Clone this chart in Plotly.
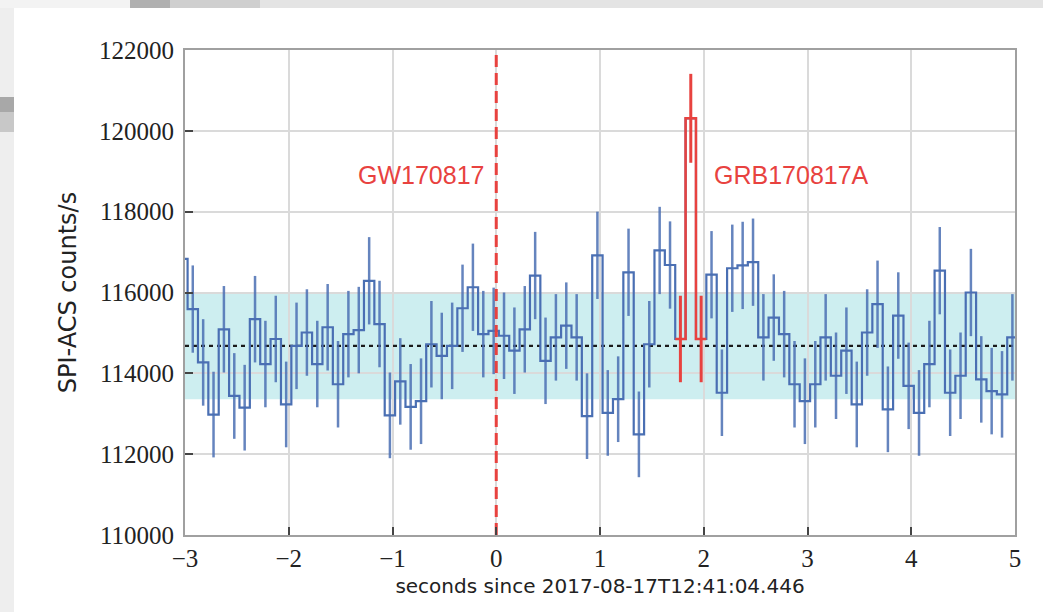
import plotly.graph_objects as go

# SPI-ACS count rate in 100 ms bins, time relative to GW170817 trigger
bin_width = 0.1
first_center = -3.025
counts = [
    116830, 115590, 114270, 112980, 115090, 113440, 113150, 115340, 114230, 114850,
    113230, 114680, 115010, 114230, 115140, 113730, 114970, 115070, 116290, 115220,
    112960, 113800, 113170, 113310, 114720, 114430, 114680, 115610, 116130, 114970,
    115050, 114930, 114560, 115090, 116420, 114310, 114890, 115180, 114890, 112940,
    116920, 113020, 113360, 116500, 112490, 114720, 117040, 116680, 114850, 120310,
    114850, 116440, 113520, 116600, 116670, 116750, 114890, 115380, 114970, 113730,
    113310, 113730, 114890, 113940, 114560, 113230, 115010, 115710, 113110, 115430,
    113690, 113020, 114230, 116540, 113520, 113940, 116000, 113850, 113560, 113480,
    114890,
]
count_err = [
    1080, 1080, 1070, 1060, 1070, 1060, 1060, 1070, 1070, 1070,
    1060, 1070, 1070, 1070, 1070, 1070, 1070, 1070, 1080, 1070,
    1060, 1070, 1060, 1060, 1070, 1070, 1070, 1080, 1080, 1070,
    1070, 1070, 1070, 1070, 1080, 1070, 1070, 1070, 1070, 1060,
    1080, 1060, 1060, 1080, 1060, 1070, 1080, 1080, 1070, 1100,
    1070, 1080, 1070, 1080, 1080, 1080, 1070, 1070, 1070, 1070,
    1060, 1070, 1070, 1070, 1070, 1060, 1070, 1080, 1060, 1070,
    1070, 1060, 1070, 1080, 1070, 1070, 1080, 1070, 1070, 1070,
    1070,
]
grb_bins = [48, 49, 50]

mean_rate = 114680
band_low = 113360
band_high = 116000
t_gw = 0.0

x_ticks = [-3, -2, -1, 0, 1, 2, 3, 4, 5]
y_ticks = [110000, 112000, 114000, 116000, 118000, 120000, 122000]

BLUE = "#4a6fb3"
BLUE_ERR = "rgba(74,111,179,0.85)"
RED = "#e8423f"

centers = [first_center + bin_width * i for i in range(len(counts))]
edges = [c - bin_width / 2 for c in centers] + [centers[-1] + bin_width / 2]

bg_idx = [i for i in range(len(counts)) if i not in grb_bins]

fig = go.Figure()

# background mean level
fig.add_trace(go.Scatter(
    x=[x_ticks[0], x_ticks[-1]], y=[mean_rate, mean_rate], mode="lines",
    line=dict(color="#1a1a1a", width=2.2, dash="4px,4px"), hoverinfo="skip",
))

# error bars of the background bins
fig.add_trace(go.Scatter(
    x=[centers[i] for i in bg_idx], y=[counts[i] for i in bg_idx], mode="markers",
    marker=dict(size=1, color="rgba(0,0,0,0)"),
    error_y=dict(type="data", array=[count_err[i] for i in bg_idx],
                 width=0, thickness=2.5, color=BLUE_ERR),
))

# step light curve
fig.add_trace(go.Scatter(
    x=edges, y=counts + [counts[-1]], mode="lines",
    line=dict(color=BLUE, width=2.2, shape="hv"),
))

# GRB 170817A bins
g_edges = [edges[i] for i in grb_bins] + [edges[grb_bins[-1] + 1]]
g_counts = [counts[i] for i in grb_bins]
fig.add_trace(go.Scatter(
    x=g_edges, y=g_counts + [g_counts[-1]], mode="lines",
    line=dict(color=RED, width=2.5, shape="hv"),
))
fig.add_trace(go.Scatter(
    x=[centers[i] for i in grb_bins], y=g_counts, mode="markers",
    marker=dict(size=1, color="rgba(0,0,0,0)"),
    error_y=dict(type="data", array=[count_err[i] for i in grb_bins],
                 width=0, thickness=3, color=RED),
))

# GW170817 trigger time
fig.add_trace(go.Scatter(
    x=[t_gw, t_gw], y=[y_ticks[0], y_ticks[-1]], mode="lines",
    line=dict(color=RED, width=3, dash="12px,6px"),
))

# 1-sigma background band
fig.add_shape(type="rect", xref="x", yref="y", x0=x_ticks[0], x1=x_ticks[-1],
              y0=band_low, y1=band_high, fillcolor="#cdeef0", line_width=0,
              layer="below")

# page frame around the figure
L, R, T, B = 185, 1015, 50, 535


def px(x):
    return (x - L) / (R - L)


def py(y):
    return (B - y) / (B - T)


for x0, x1, y0, y1, col in [
    (0, 14, 0, 612, "#eeeeee"),
    (0, 130, 0, 8, "#f3f3f3"),
    (0, 14, 97, 112, "#a8a8a8"),
    (0, 14, 112, 132, "#c8c8c8"),
    (130, 170, 0, 8, "#b0b0b0"),
    (170, 260, 0, 8, "#cfcfcf"),
    (260, 1043, 0, 8, "#e4e4e4"),
]:
    fig.add_shape(type="rect", xref="paper", yref="paper",
                  x0=px(x0), x1=px(x1), y0=py(y0), y1=py(y1),
                  fillcolor=col, line_width=0, layer="below")

ann_font = dict(family="Liberation Sans, Arial, sans-serif", size=25, color=RED)
fig.add_annotation(x=-0.1, y=118900, text="GW170817", showarrow=False,
                   xanchor="right", yanchor="middle", font=ann_font)
fig.add_annotation(x=2.08, y=118900, text="GRB170817A", showarrow=False,
                   xanchor="left", yanchor="middle", font=ann_font)

tick_font = dict(family="Liberation Serif, Times New Roman, serif", size=25, color="#222222")

fig.update_xaxes(
    range=[x_ticks[0], x_ticks[-1]], tickvals=x_ticks, ticks="inside", ticklen=8,
    tickwidth=1.5, tickcolor="#444444", showgrid=True, gridcolor="#dadada", gridwidth=1.5,
    showline=True, linecolor="#a0a0a0", linewidth=2, mirror=True, zeroline=False,
    tickfont=tick_font,
    title=dict(text="seconds since 2017-08-17T12:41:04.446",
               font=dict(family="DejaVu Sans, sans-serif", size=20, color="#222222"),
               standoff=8),
)
fig.update_yaxes(
    range=[y_ticks[0], y_ticks[-1]], tickvals=y_ticks, tickformat="d",
    ticks="inside", ticklen=8,
    tickwidth=1.5, tickcolor="#444444", showgrid=True, gridcolor="#dadada", gridwidth=1.5,
    showline=True, linecolor="#a0a0a0", linewidth=2, mirror=True, zeroline=False,
    tickfont=tick_font, ticklabelstandoff=4,
    title=dict(text="SPI-ACS counts/s",
               font=dict(family="DejaVu Sans, sans-serif", size=24, color="#222222"),
               standoff=16),
)

fig.update_layout(
    width=1043, height=612, showlegend=False,
    margin=dict(l=L, r=1043 - R, t=T, b=612 - B),
    paper_bgcolor="white", plot_bgcolor="white",
)

fig.write_html("out.html")
